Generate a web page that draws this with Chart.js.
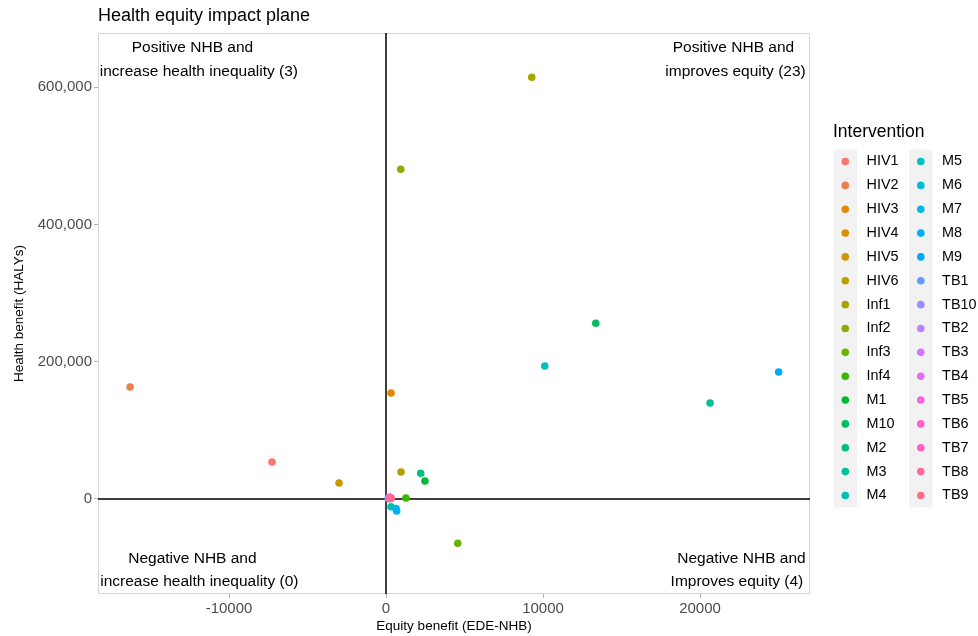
<!DOCTYPE html>
<html>
<head>
<meta charset="utf-8">
<title>Health equity impact plane</title>
<script src="https://cdn.jsdelivr.net/npm/chart.js@4/dist/chart.umd.min.js"></script>
<style>
  html, body { margin: 0; padding: 0; background: #ffffff; }
  #wrap { width: 978px; height: 636px; }
</style>
</head>
<body>
<div id="wrap"><canvas id="plane" width="978" height="636"></canvas></div>
<script>
// ---- data ----------------------------------------------------------------
const interventions = [
  'HIV1', 'HIV2', 'HIV3', 'HIV4', 'HIV5', 'HIV6',
  'Inf1', 'Inf2', 'Inf3', 'Inf4',
  'M1', 'M10', 'M2', 'M3', 'M4', 'M5', 'M6', 'M7', 'M8', 'M9',
  'TB1', 'TB10', 'TB2', 'TB3', 'TB4', 'TB5', 'TB6', 'TB7', 'TB8', 'TB9'
];

// Equity benefit (EDE-NHB)
const equityBenefit = [
  -7260, -16300, 320, 250, -2990, 955,
  9280, 940, 4570, 1270,
  2480, 13360, 2210, 20640, 320, 10110, 170, 640, 680, 25010,
  150, 200, 260, 180, 300, 220, 280, 240, 310, 330
];

// Health benefit (HALYs)
const healthBenefit = [
  53900, 163200, 154400, 2500, 23300, 39300,
  614300, 480300, -64500, 1500,
  26200, 256000, 37400, 139800, -11200, 193800, 500, -14100, -17500, 185000,
  1800, 1200, 2100, 900, 1600, 2400, 1000, 1400, 700, 1100
];

const xTickValues = [-10000, 0, 10000, 20000];
const yTickValues = [0, 200000, 400000, 600000];

const quadrantLabels = [
  ['Positive NHB and', 'increase health inequality (3)'],
  ['Positive NHB and', 'improves equity (23)'],
  ['Negative NHB and', 'increase health inequality (0)'],
  ['Negative NHB and', 'Improves equity (4)']
];

const chartTitle = 'Health equity impact plane';
const legendTitle = 'Intervention';

// ---- colours: evenly spaced HCL hues (chroma 100, luminance 65) ----------
function hcl(h, c, l) {
  const WHITE_Y = 100, WHITE_u = 0.1978398, WHITE_v = 0.4683363;
  const hr = h * Math.PI / 180;
  const U = c * Math.cos(hr), V = c * Math.sin(hr);
  const Y = WHITE_Y * (l > 7.999592 ? Math.pow((l + 16) / 116, 3) : l / 903.3);
  const u = U / (13 * l) + WHITE_u;
  const v = V / (13 * l) + WHITE_v;
  const X = 9.0 * Y * u / (4 * v);
  const Z = -X / 3 - 5 * Y + 3 * Y / v;
  const g = t => (t > 0.00304 ? 1.055 * Math.pow(t, 1 / 2.4) - 0.055 : 12.92 * t);
  const rgb = [
    g((3.240479 * X - 1.537150 * Y - 0.498535 * Z) / WHITE_Y),
    g((-0.969256 * X + 1.875992 * Y + 0.041556 * Z) / WHITE_Y),
    g((0.055648 * X - 0.204043 * Y + 1.057311 * Z) / WHITE_Y)
  ].map(t => Math.round(255 * Math.min(1, Math.max(0, t))));
  return 'rgb(' + rgb.join(',') + ')';
}
function huePalette(n) {
  const cols = [];
  const step = 360 / n;
  for (let i = 0; i < n; i++) cols.push(hcl(15 + i * step, 100, 65));
  return cols;
}
const colours = huePalette(interventions.length);

const FONT = '"Liberation Sans", Arial, Helvetica, sans-serif';

// ---- decorations drawn around the plotting panel -------------------------
const panelDecor = {
  id: 'panelDecor',
  beforeDatasetsDraw(chart) {
    const { ctx, chartArea: a, scales: { x, y } } = chart;
    ctx.save();
    // panel border
    ctx.strokeStyle = '#d4d4d4';
    ctx.lineWidth = 1;
    ctx.strokeRect(a.left + 0.5, a.top + 0.5, a.right - a.left - 1, a.bottom - a.top - 1);
    // reference lines through the origin
    ctx.strokeStyle = '#000000';
    ctx.lineWidth = 1.5;
    const x0 = x.getPixelForValue(0);
    const y0 = y.getPixelForValue(0);
    ctx.beginPath();
    ctx.moveTo(x0, a.top);
    ctx.lineTo(x0, a.bottom);
    ctx.moveTo(a.left, y0);
    ctx.lineTo(a.right, y0);
    ctx.stroke();
    ctx.restore();
  },
  afterDraw(chart) {
    const { ctx, scales: { x, y } } = chart;
    ctx.save();
    // title
    ctx.fillStyle = '#000000';
    ctx.font = '18px ' + FONT;
    ctx.textAlign = 'left';
    ctx.textBaseline = 'middle';
    ctx.fillText(chartTitle, 98, 16);

    // quadrant annotations, each line anchored in data coordinates
    const anchors = [
      [[-12330, 657000], [-11920, 622000]],
      [[22130, 657000], [22260, 622000]],
      [[-12330, -87000], [-11890, -120000]],
      [[22640, -87000], [22350, -120000]]
    ];
    ctx.font = '15.5px ' + FONT;
    ctx.textAlign = 'center';
    quadrantLabels.forEach((lines, i) => {
      lines.forEach((t, j) => {
        const px = x.getPixelForValue(anchors[i][j][0]);
        const py = y.getPixelForValue(anchors[i][j][1]);
        ctx.fillText(t, px, py);
      });
    });

    // legend: two columns of keys on a light grey background
    const perCol = Math.ceil(interventions.length / 2);
    const colX = [833.5, 909];
    const keyW = 23.6, rowH = 23.85, top0 = 149.6;
    ctx.font = '17.5px ' + FONT;
    ctx.textAlign = 'left';
    ctx.fillText(legendTitle, 833, 132);
    ctx.fillStyle = '#f2f2f2';
    colX.forEach(cx => ctx.fillRect(cx, top0, keyW, rowH * perCol));
    ctx.font = '14.4px ' + FONT;
    interventions.forEach((name, i) => {
      const col = Math.floor(i / perCol), row = i % perCol;
      const cy = top0 + rowH * (row + 0.5);
      const cx = colX[col] + keyW / 2;
      ctx.fillStyle = colours[i];
      ctx.beginPath();
      ctx.arc(cx, cy, 3.8, 0, Math.PI * 2);
      ctx.fill();
      ctx.fillStyle = '#000000';
      ctx.fillText(name, colX[col] + keyW + 9.5, cy);
    });
    ctx.restore();
  }
};

// ---- chart ---------------------------------------------------------------
const datasets = interventions.map((name, i) => ({
  label: name,
  data: [{ x: equityBenefit[i], y: healthBenefit[i] }],
  backgroundColor: colours[i],
  borderColor: colours[i],
  pointRadius: 3.8,
  pointBorderWidth: 0,
  pointHoverRadius: 3.8,
  order: interventions.length - i
}));

const tickFont = { family: FONT, size: 15 };

new Chart(document.getElementById('plane'), {
  type: 'scatter',
  data: { datasets },
  plugins: [panelDecor],
  options: {
    responsive: false,
    animation: false,
    devicePixelRatio: 1,
    layout: { padding: { left: 0, top: 33, right: 168, bottom: 0 } },
    plugins: {
      legend: { display: false },
      title: { display: false },
      tooltip: { enabled: false }
    },
    events: [],
    scales: {
      x: {
        type: 'linear',
        position: 'bottom',
        min: -18344,
        max: 27006,
        afterFit(scale) { scale.height = 42; },
        afterBuildTicks(scale) { scale.ticks = xTickValues.map(v => ({ value: v })); },
        ticks: {
          callback: v => String(v),
          color: '#4d4d4d',
          font: tickFont,
          padding: 2,
          maxRotation: 0,
          autoSkip: false
        },
        grid: { drawOnChartArea: false, drawTicks: true, tickLength: 4, tickColor: '#b3b3b3', tickWidth: 1 },
        border: { display: false },
        title: {
          display: true,
          text: 'Equity benefit (EDE-NHB)',
          color: '#000000',
          font: { family: FONT, size: 13.5 },
          padding: { top: 0, bottom: 2 }
        }
      },
      y: {
        type: 'linear',
        min: -138400,
        max: 678800,
        afterFit(scale) { scale.width = 98; },
        afterBuildTicks(scale) { scale.ticks = yTickValues.map(v => ({ value: v })); },
        ticks: {
          callback: v => v.toLocaleString('en-US'),
          color: '#4d4d4d',
          font: tickFont,
          padding: 2,
          autoSkip: false
        },
        grid: { drawOnChartArea: false, drawTicks: true, tickLength: 4, tickColor: '#b3b3b3', tickWidth: 1 },
        border: { display: false },
        title: {
          display: true,
          text: 'Health benefit (HALYs)',
          color: '#000000',
          font: { family: FONT, size: 13.5 },
          padding: { top: 11, bottom: 0 }
        }
      }
    }
  }
});
</script>
</body>
</html>
